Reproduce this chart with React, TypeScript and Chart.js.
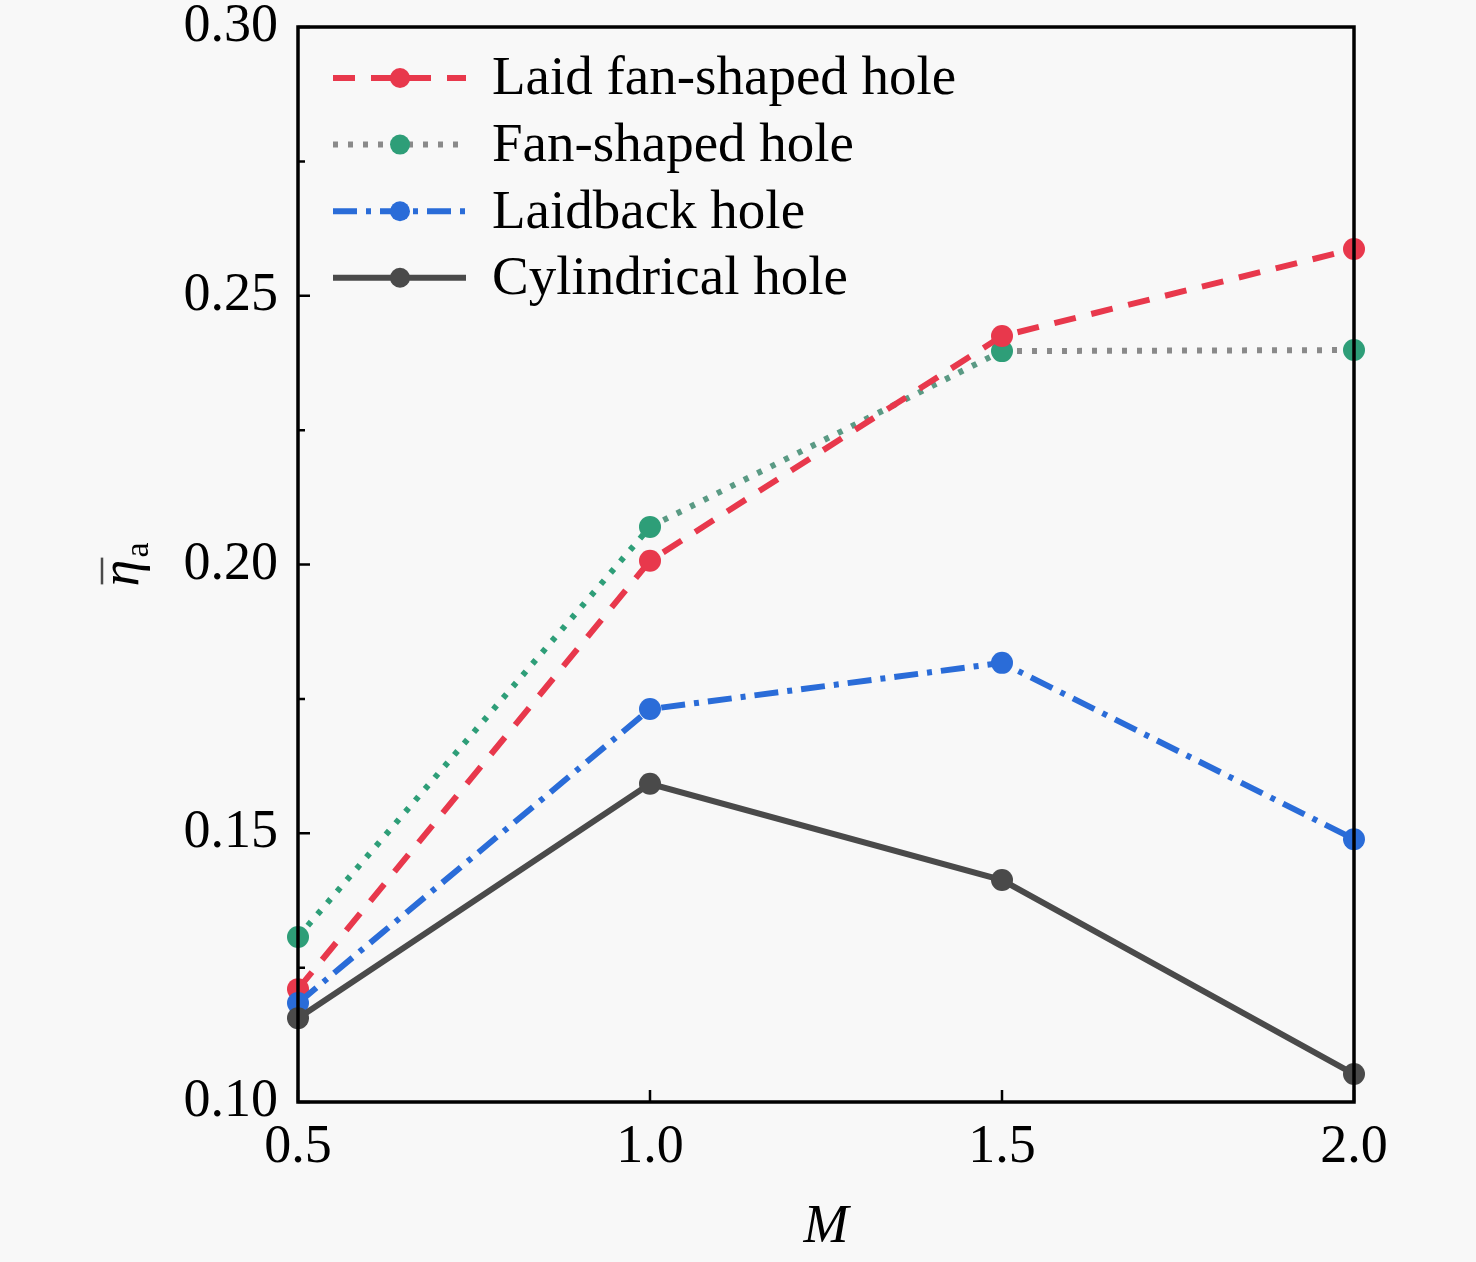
import { useEffect, useRef } from "react";
import { Chart, registerables } from "chart.js";

Chart.register(...registerables);

// blowing ratio M
const blowingRatio = [0.5, 1.0, 1.5, 2.0];
// area-averaged film cooling effectiveness
const laidFanShaped = [0.121, 0.2007, 0.2425, 0.2587];
const fanShaped = [0.1307, 0.207, 0.2397, 0.2399];
const laidback = [0.1184, 0.1731, 0.1817, 0.1489];
const cylindrical = [0.1156, 0.1592, 0.1413, 0.1052];

const seriesNames = ["Laid fan-shaped hole", "Fan-shaped hole", "Laidback hole", "Cylindrical hole"];
const yMinorTicks = [0.125, 0.175, 0.225, 0.275];

const FONT = '"Liberation Serif", "Times New Roman", serif';
const RED = "#e8384c";
const GREEN = "#2e9e78";
const GREY = "#8a8a8a";
const BLUE = "#2a6cd8";
const DARK = "#4a4a4a";

const legendStyles = [
  { line: RED, point: RED, dash: [22, 16] },
  { line: GREY, point: GREEN, dash: [5, 10] },
  { line: BLUE, point: BLUE, dash: [24, 9, 5, 9] },
  { line: DARK, point: DARK, dash: [] as number[] },
];

const framePlugin = {
  id: "frame",
  afterDraw(chart: any) {
    const { ctx, chartArea: a, scales } = chart;
    ctx.save();
    ctx.strokeStyle = "#000";
    ctx.lineWidth = 3.5;
    ctx.strokeRect(a.left, a.top, a.right - a.left, a.bottom - a.top);

    // inward ticks
    ctx.lineWidth = 2.5;
    ctx.beginPath();
    for (const v of blowingRatio) {
      const x = scales.x.getPixelForValue(v);
      ctx.moveTo(x, a.bottom);
      ctx.lineTo(x, a.bottom - 12);
    }
    for (let v = 0.1; v <= 0.3001; v += 0.05) {
      const y = scales.y.getPixelForValue(v);
      ctx.moveTo(a.left, y);
      ctx.lineTo(a.left + 12, y);
    }
    for (const v of yMinorTicks) {
      const y = scales.y.getPixelForValue(v);
      ctx.moveTo(a.left, y);
      ctx.lineTo(a.left + 7, y);
    }
    ctx.stroke();

    // legend
    ctx.font = `55px ${FONT}`;
    ctx.textBaseline = "middle";
    ctx.fillStyle = "#000";
    seriesNames.forEach((name, i) => {
      const y = a.top + 51 + i * 66.6;
      const s = legendStyles[i];
      ctx.strokeStyle = s.line;
      ctx.lineWidth = 6;
      ctx.setLineDash(s.dash);
      ctx.beginPath();
      ctx.moveTo(333, y);
      ctx.lineTo(466, y);
      ctx.stroke();
      ctx.setLineDash([]);
      ctx.fillStyle = s.point;
      ctx.beginPath();
      ctx.arc(400, y, 10, 0, Math.PI * 2);
      ctx.fill();
      ctx.fillStyle = "#000";
      ctx.fillText(name, 492, y + 2);
    });

    // x title
    ctx.font = `italic 54px ${FONT}`;
    ctx.textAlign = "center";
    ctx.textBaseline = "middle";
    ctx.fillText("M", (a.left + a.right) / 2, 1228);

    // y title: eta with overline, subscript a
    ctx.translate(128, 565);
    ctx.rotate(-Math.PI / 2);
    ctx.textAlign = "left";
    ctx.textBaseline = "alphabetic";
    ctx.font = `italic 54px ${FONT}`;
    const w = ctx.measureText("η").width;
    ctx.fillText("η", -w / 2 - 8, 10);
    ctx.lineWidth = 2.5;
    ctx.beginPath();
    ctx.moveTo(-w / 2 - 6, -26);
    ctx.lineTo(w / 2 - 6, -26);
    ctx.stroke();
    ctx.font = `34px ${FONT}`;
    ctx.fillText("a", w / 2 - 6, 20);
    ctx.restore();
  },
};

export default function App() {
  const canvasRef = useRef<HTMLCanvasElement>(null);

  useEffect(() => {
    if (!canvasRef.current) return;
    const mk = (label: string, data: number[], color: string, point: string, dash: number[]) => ({
      label,
      data: blowingRatio.map((x, i) => ({ x, y: data[i] })),
      borderColor: color,
      backgroundColor: point,
      pointBackgroundColor: point,
      pointBorderColor: point,
      borderWidth: 6,
      borderDash: dash,
      pointRadius: 11,
      pointBorderWidth: 0,
      tension: 0,
      clip: false as any,
    });
    const fan: any = mk(seriesNames[1], fanShaped, GREEN, GREEN, [5, 10]);
    fan.segment = { borderColor: (c: any) => (c.p0DataIndex >= 2 ? GREY : c.p0DataIndex === 1 ? "#5a9a84" : GREEN) };
    const chart = new Chart(canvasRef.current, {
      type: "line",
      data: {
        datasets: [
          mk(seriesNames[3], cylindrical, DARK, DARK, []),
          mk(seriesNames[2], laidback, BLUE, BLUE, [24, 9, 5, 9]),
          mk(seriesNames[0], laidFanShaped, RED, RED, [22, 16]),
          fan,
        ],
      },
      options: {
        animation: false,
        responsive: true,
        maintainAspectRatio: false,
        layout: { padding: { left: 0, top: 27, right: 122, bottom: 0 } },
        plugins: { legend: { display: false }, tooltip: { enabled: false } },
        scales: {
          x: {
            type: "linear",
            min: 0.5,
            max: 2.0,
            grid: { display: false, drawTicks: false },
            border: { display: false },
            afterFit: (s: any) => {
              s.height = 160;
              s.paddingLeft = 0;
              s.paddingRight = 0;
            },
            ticks: {
              stepSize: 0.5,
              padding: 13,
              color: "#000",
              font: { family: FONT, size: 54 },
              callback: (v: any) => Number(v).toFixed(1),
            },
          },
          y: {
            min: 0.1,
            max: 0.3,
            grid: { display: false, drawTicks: false },
            border: { display: false },
            afterFit: (s: any) => {
              s.width = 298;
              s.paddingTop = 0;
              s.paddingBottom = 0;
            },
            ticks: {
              stepSize: 0.05,
              padding: 20,
              color: "#000",
              font: { family: FONT, size: 54 },
              callback: (v: any) => Number(v).toFixed(2),
            },
          },
        },
      },
      plugins: [framePlugin],
    });
    return () => chart.destroy();
  }, []);

  return (
    <div
      style={{
        position: "absolute",
        left: 0,
        top: 0,
        width: 1476,
        height: 1262,
        background: "#f8f8f8",
      }}
    >
      <canvas ref={canvasRef} role="img" aria-label="Area-averaged film cooling effectiveness versus blowing ratio" />
    </div>
  );
}
